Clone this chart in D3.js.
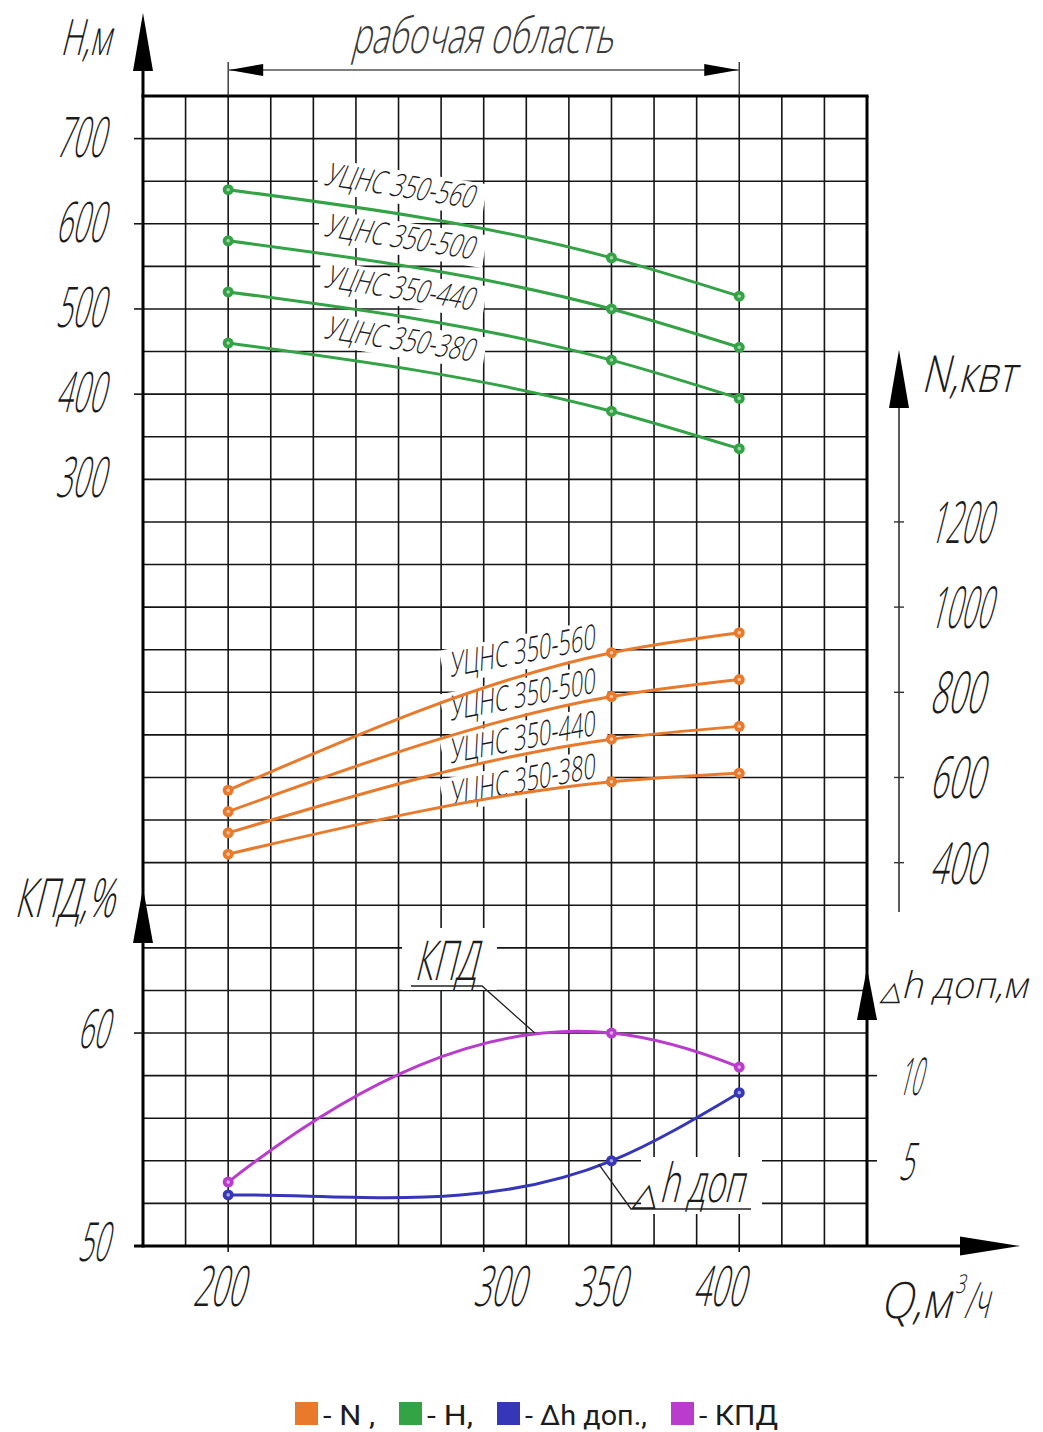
<!DOCTYPE html>
<html>
<head>
<meta charset="utf-8">
<script src="https://cdn.jsdelivr.net/npm/d3@7"></script>
<style>
  html, body { margin: 0; padding: 0; background: #fff; }
  svg { display: block; }
  .gost { font-family: "Open Sans", "DejaVu Sans", sans-serif; font-weight: 300; fill: #1c1c1c; }
  .legend { font-family: "Roboto", "Noto Sans", sans-serif; font-weight: 400; fill: #1c1c1c; }
</style>
</head>
<body>
<svg id="chart" width="1043" height="1432"></svg>
<script>
// ---- pump characteristics, УЦНС 350 series ----
const flowPoints = [200, 350, 400];                       // Q, м³/ч
const pumpModels = ["УЦНС 350-560", "УЦНС 350-500", "УЦНС 350-440", "УЦНС 350-380"];
const headValues = [                                       // H, м
  [640, 560, 515],
  [580, 500, 455],
  [520, 440, 395],
  [460, 380, 336]
];
const powerValues = [                                      // N, кВт
  [570, 893, 940],
  [520, 790, 830],
  [470, 690, 720],
  [420, 590, 610]
];
const efficiencyValues = [53, 60, 58.4];                   // КПД, %
const npshValues = [3, 5, 9];                              // Δh доп, м

// ---- tick labels ----
const flowTickLabels = [200, 300, 350, 400];
const headTickLabels = [700, 600, 500, 400, 300];
const powerTickLabels = [1200, 1000, 800, 600, 400];
const efficiencyTickLabels = [60, 50];
const npshTickLabels = [10, 5];
const legendLabels = ["- N ,", "- H,", "- Δh доп.,", "- КПД"];

const COLORS = { power: "#e97a2c", head: "#33a346", npsh: "#3636b9", eff: "#b93ccc" };
const legendColors = [COLORS.power, COLORS.head, COLORS.npsh, COLORS.eff];

const svg = d3.select("#chart");
svg.append("rect").attr("width", 1043).attr("height", 1432).attr("fill", "#fff");

// ---- grid geometry ----
const GL = 143, GR = 867, GT = 96, GB = 1246, COLS = 17, ROWS = 27;
const colStep = 50 / 3;
const qMin = 200 - 2 * colStep;
const x = d3.scaleLinear().domain([qMin, qMin + COLS * colStep]).range([GL, GR]);
const yHead = d3.scaleLinear().domain([750 - ROWS * 50, 750]).range([GB, GT]);
const yPower = d3.scaleLinear().domain([2200 - ROWS * 100, 2200]).range([GB, GT]);
const yEff = d3.scaleLinear().domain([50, 50 + ROWS * 2]).range([GB, GT]);
const yNpsh = d3.scaleLinear().domain([0, ROWS * 2.5]).range([GB, GT]);

const INK = "#151515";
const SKEW = -14;

// Cubic spline in x with end moments tied to their neighbours (M0 = r0·M1, Mn = r1·Mn-1).
function curveEndSpline(r0, r1) {
  return function (context) {
    let xs, ys;
    return {
      areaStart() {}, areaEnd() {},
      lineStart() { xs = []; ys = []; },
      point(px, py) { xs.push(+px); ys.push(+py); },
      lineEnd() {
        const n = xs.length;
        if (!n) return;
        context.moveTo(xs[0], ys[0]);
        if (n === 2) { context.lineTo(xs[1], ys[1]); return; }
        const h = d3.range(n - 1).map(i => xs[i + 1] - xs[i]);
        const sl = d3.range(n - 1).map(i => (ys[i + 1] - ys[i]) / h[i]);
        const m = n - 2, a = [], b = [], c = [], d = [];
        for (let k = 0; k < m; k++) {
          const i = k + 1;
          a[k] = h[i - 1]; b[k] = 2 * (h[i - 1] + h[i]); c[k] = h[i]; d[k] = 6 * (sl[i] - sl[i - 1]);
        }
        b[0] += r0 * h[0];
        b[m - 1] += r1 * h[n - 2];
        for (let k = 1; k < m; k++) { const w = a[k] / b[k - 1]; b[k] -= w * c[k - 1]; d[k] -= w * d[k - 1]; }
        const M = new Array(n).fill(0);
        M[m] = d[m - 1] / b[m - 1];
        for (let k = m - 2; k >= 0; k--) M[k + 1] = (d[k] - c[k] * M[k + 2]) / b[k];
        M[0] = r0 * M[1]; M[n - 1] = r1 * M[n - 2];
        for (let i = 0; i < n - 1; i++) {
          const s0 = sl[i] - h[i] * (2 * M[i] + M[i + 1]) / 6;
          const s1 = sl[i] + h[i] * (M[i] + 2 * M[i + 1]) / 6;
          const t = h[i] / 3;
          context.bezierCurveTo(xs[i] + t, ys[i] + t * s0, xs[i + 1] - t, ys[i + 1] - t * s1, xs[i + 1], ys[i + 1]);
        }
      }
    };
  };
}

// Slanted, narrow drafting-style text; 'len' is the wanted advance width.
function gost(g, str, o) {
  const base = `translate(${o.x},${o.y}) rotate(${o.rotate || 0}) skewX(${SKEW})`;
  const t = g.append("text")
    .attr("class", "gost")
    .attr("transform", base)
    .attr("font-size", o.size)
    .attr("text-anchor", o.anchor || "start")
    .text(str);
  if (o.fill) t.style("fill", o.fill);
  if (o.family) t.style("font-family", o.family);
  if (o.len) {
    const natural = t.node().getComputedTextLength();
    if (natural > 0) t.attr("transform", `${base} scale(${o.len / natural},1)`);
  }
  return t;
}
function arrowUp(g, cx, tip, base, hw) {
  g.append("path").attr("d", `M${cx},${tip}L${cx + hw},${base}L${cx - hw},${base}Z`).attr("fill", "#000");
}

// ---- grid ----
const grid = svg.append("g").attr("stroke", INK).attr("stroke-width", 1.6);
grid.selectAll("line.v").data(d3.range(1, COLS)).join("line")
  .attr("x1", i => x(qMin + i * colStep)).attr("x2", i => x(qMin + i * colStep))
  .attr("y1", GT).attr("y2", GB);
grid.selectAll("line.h").data(d3.range(1, ROWS)).join("line")
  .attr("y1", i => yHead(750 - i * 50)).attr("y2", i => yHead(750 - i * 50))
  .attr("x1", GL).attr("x2", GR);

// ---- frame & axes ----
const frame = svg.append("g").attr("stroke", "#000").attr("stroke-width", 3).attr("fill", "none");
frame.append("line").attr("x1", GL - 1.5).attr("x2", GR + 1.5).attr("y1", GT).attr("y2", GT);
frame.append("line").attr("x1", GR).attr("x2", GR).attr("y1", GT).attr("y2", GB);
frame.append("line").attr("x1", GL).attr("x2", GL).attr("y1", 70).attr("y2", GB + 1.5);
frame.append("line").attr("x1", GL - 9).attr("x2", 962).attr("y1", GB).attr("y2", GB);

const axes = svg.append("g");
// H axis
arrowUp(axes, GL, 13, 71, 10);
axes.selectAll("line.ht").data(headTickLabels.filter(v => v !== 300)).join("line")
  .attr("x1", GL - 9).attr("x2", GL).attr("y1", d => yHead(d)).attr("y2", d => yHead(d))
  .attr("stroke", INK).attr("stroke-width", 1.6);
headTickLabels.forEach(v => gost(axes, String(v), { x: 104, y: yHead(v) + 18, size: 56, len: 49, anchor: "end" }));
gost(axes, "Н,м", { x: 60, y: 55, size: 50, len: 50 });

// КПД axis
arrowUp(axes, GL, 888, 943, 10);
axes.append("line").attr("x1", GL - 9).attr("x2", GL).attr("y1", yEff(60)).attr("y2", yEff(60))
  .attr("stroke", INK).attr("stroke-width", 1.6);
efficiencyTickLabels.forEach(v => gost(axes, String(v), { x: 108, y: yEff(v) + 15, size: 54, len: 31, anchor: "end" }));
gost(axes, "КПД,%", { x: 14, y: 917, size: 54, len: 100 });

// N axis
const nx = 899;
axes.append("line").attr("x1", nx).attr("x2", nx).attr("y1", 405).attr("y2", 912)
  .attr("stroke", "#333").attr("stroke-width", 1.6);
arrowUp(axes, nx, 350, 408, 10);
axes.selectAll("line.nt").data(powerTickLabels).join("line")
  .attr("x1", nx - 5).attr("x2", nx + 5).attr("y1", d => yPower(d)).attr("y2", d => yPower(d))
  .attr("stroke", "#333").attr("stroke-width", 1.4);
powerTickLabels.forEach(v => gost(axes, String(v), { x: 929, y: yPower(v) + 21, size: 58, len: v >= 1000 ? 62 : 54 }));
gost(axes, "N,квт", { x: 921, y: 392, size: 51, len: 94 });

// Δh axis
arrowUp(axes, GR, 968, 1020, 10);
axes.selectAll("line.dt").data(npshTickLabels).join("line")
  .attr("x1", GR).attr("x2", GR + 10).attr("y1", d => yNpsh(d)).attr("y2", d => yNpsh(d))
  .attr("stroke", INK).attr("stroke-width", 1.6);
npshTickLabels.forEach(v => gost(axes, String(v), { x: 898, y: yNpsh(v) + 19, size: 52, len: v >= 10 ? 23 : 15 }));
gost(axes, "△", { x: 880, y: 1000, size: 27, family: "DejaVu Sans" });
gost(axes, "h доп,м", { x: 901, y: 998, size: 37, len: 126 });

// Q axis
axes.append("path").attr("d", `M1020,${GB}L960,${GB - 9.5}L960,${GB + 9.5}Z`).attr("fill", "#000");
axes.selectAll("line.qt").data(flowTickLabels.filter(v => v !== 350)).join("line")
  .attr("x1", d => x(d)).attr("x2", d => x(d)).attr("y1", GB).attr("y2", GB + 6)
  .attr("stroke", INK).attr("stroke-width", 1.6);
const qNudge = { 200: -5, 300: 20, 350: -7, 400: -16 };
flowTickLabels.forEach(v => gost(axes, String(v), { x: x(v) + qNudge[v] - 5, y: 1306, size: 56, len: 52, anchor: "middle" }));
gost(axes, "Q,м", { x: 880, y: 1318, size: 50, len: 70 });
gost(axes, "3", { x: 955, y: 1293, size: 26, len: 10 });
gost(axes, "/ч", { x: 964, y: 1318, size: 50, len: 24 });

// ---- working range ----
const range = svg.append("g");
const rx0 = x(200), rx1 = x(400), ry = 70;
range.selectAll("line.ext").data([rx0, rx1]).join("line")
  .attr("x1", d => d).attr("x2", d => d).attr("y1", 62).attr("y2", GT)
  .attr("stroke", "#222").attr("stroke-width", 1.3);
range.append("line").attr("x1", rx0).attr("x2", rx1).attr("y1", ry).attr("y2", ry)
  .attr("stroke", "#555").attr("stroke-width", 1.3);
range.append("path").attr("d", `M${rx0 + 1},${ry}L${rx0 + 35},${ry - 6}L${rx0 + 35},${ry + 6}Z`).attr("fill", "#000");
range.append("path").attr("d", `M${rx1 - 1},${ry}L${rx1 - 35},${ry - 6}L${rx1 - 35},${ry + 6}Z`).attr("fill", "#000");
gost(range, "рабочая область", { x: (rx0 + rx1) / 2 - 2, y: 53, size: 50, len: 262, anchor: "middle", fill: "#3a3a3a" });

// ---- label backgrounds ----
const boxes = svg.append("g").attr("fill", "#fff");
const labels = svg.append("g");

function modelLabel(text, px, py, angle, anchor, size, len) {
  const t = `translate(${px},${py}) rotate(${angle})`;
  const h = size * 0.82;
  const bx = anchor === "end" ? -len - 6 : -6;
  boxes.append("rect").attr("transform", t)
    .attr("x", bx).attr("y", -h).attr("width", len + 18).attr("height", h + 7);
  gost(labels, text, { x: px, y: py, rotate: angle, size, len, anchor });
}

pumpModels.forEach((name, i) => {
  modelLabel(name, x(200) + 95, yHead(headValues[i][0]) - 5, 9, "start", 32, 150);
  modelLabel(name, x(350) - 16, yPower(powerValues[i][1]) - 4, -11, "end", 34, 148);
});

// callout backgrounds
boxes.append("rect").attr("x", 402).attr("y", 928).attr("width", 95).attr("height", 62);
boxes.append("rect").attr("x", 641).attr("y", 1157).attr("width", 121).attr("height", 57);

// ---- curves ----
const curves = svg.append("g").attr("fill", "none").attr("stroke-width", 3).attr("stroke-linecap", "round");
const lineHead = d3.line().x((d, i) => x(flowPoints[i])).y(d => yHead(d)).curve(d3.curveMonotoneX);
const linePower = d3.line().x((d, i) => x(flowPoints[i])).y(d => yPower(d)).curve(d3.curveMonotoneX);
const lineEff = d3.line().x((d, i) => x(flowPoints[i])).y(d => yEff(d)).curve(curveEndSpline(0.5, 0.5));
const lineNpsh = d3.line().x((d, i) => x(flowPoints[i])).y(d => yNpsh(d)).curve(curveEndSpline(-0.27, 0));

curves.selectAll("path.h").data(headValues).join("path").attr("d", lineHead).attr("stroke", COLORS.head);
curves.selectAll("path.n").data(powerValues).join("path").attr("d", linePower).attr("stroke", COLORS.power);
curves.append("path").attr("d", lineEff(efficiencyValues)).attr("stroke", COLORS.eff);
curves.append("path").attr("d", lineNpsh(npshValues)).attr("stroke", COLORS.npsh);

// ---- point markers ----
const markers = svg.append("g");
function drawPoints(values, yScale, color) {
  const g = markers.append("g");
  g.selectAll("circle.o").data(values).join("circle")
    .attr("cx", (d, i) => x(flowPoints[i])).attr("cy", d => yScale(d)).attr("r", 5.5).attr("fill", color);
  g.selectAll("circle.c").data(values).join("circle")
    .attr("cx", (d, i) => x(flowPoints[i])).attr("cy", d => yScale(d)).attr("r", 1.8)
    .attr("fill", "#fff").attr("fill-opacity", 0.55);
}
headValues.forEach(v => drawPoints(v, yHead, COLORS.head));
powerValues.forEach(v => drawPoints(v, yPower, COLORS.power));
drawPoints(efficiencyValues, yEff, COLORS.eff);
drawPoints(npshValues, yNpsh, COLORS.npsh);

// ---- callouts ----
const callouts = svg.append("g").attr("stroke", "#222").attr("stroke-width", 1.3).attr("fill", "none");
callouts.append("path").attr("d", `M411,986H482L${x(320)},${yEff(60)}`);
gost(labels, "КПД", { x: 414, y: 980, size: 55, len: 62 });
callouts.append("path").attr("d", `M${x(345)},${yNpsh(4.8)}L631,1209H751`);
gost(labels, "△", { x: 632, y: 1205, size: 32, family: "DejaVu Sans" });
gost(labels, "h доп", { x: 659, y: 1202, size: 54, len: 84 });

// ---- legend ----
const legend = svg.append("g");
const legendLens = [52, 46, 122, 79];
let lx = 295;
legendLabels.forEach((lab, i) => {
  legend.append("rect").attr("x", lx).attr("y", 1402).attr("width", 23).attr("height", 23).attr("fill", legendColors[i]);
  const t = legend.append("text").attr("class", "legend")
    .attr("transform", `translate(${lx + 28},1425)`)
    .attr("font-size", 28).text(lab);
  const natural = t.node().getComputedTextLength();
  if (natural > 0) t.attr("transform", `translate(${lx + 28},1425) scale(${legendLens[i] / natural},1)`);
  lx += 28 + legendLens[i] + 24;
});
</script>
</body>
</html>
